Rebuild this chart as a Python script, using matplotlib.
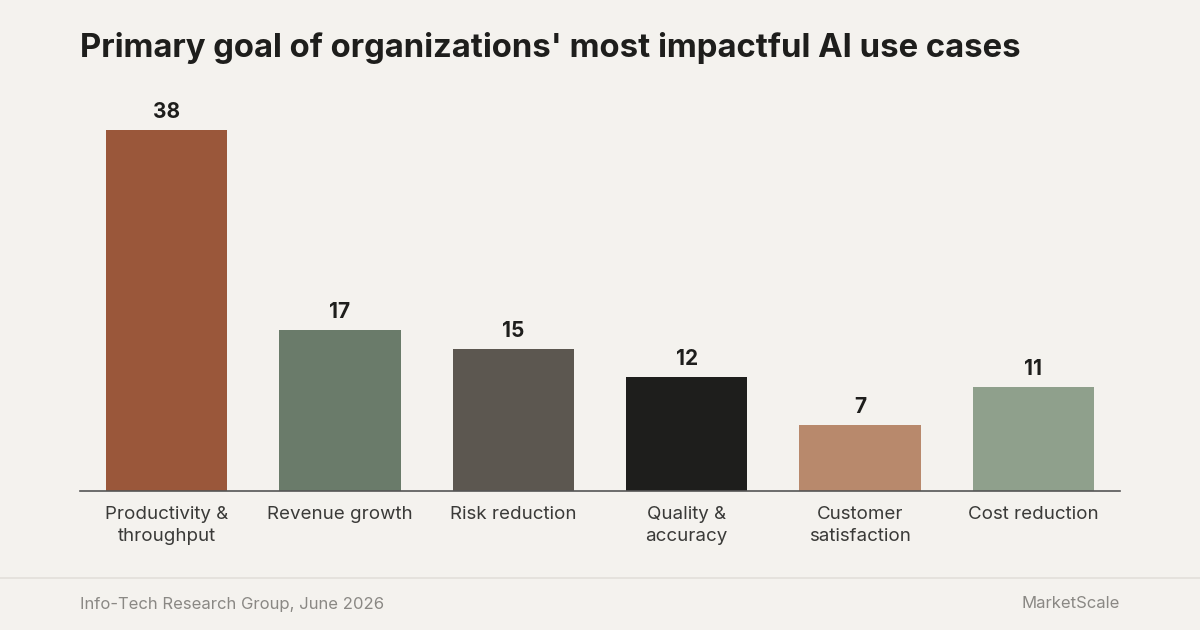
import matplotlib
matplotlib.use("Agg")
import matplotlib.pyplot as plt

categories = ["Productivity &\nthroughput", "Revenue growth", "Risk reduction",
              "Quality &\naccuracy", "Customer\nsatisfaction", "Cost reduction"]
values = [38, 17, 15, 12, 7, 11]
colors = ["#9A573A", "#6A7B6A", "#5C5750", "#1E1E1C", "#B8896C", "#8FA08C"]

bg = "#F4F2EE"
plt.rcParams['font.family'] = ['Inter', 'DejaVu Sans']
fig = plt.figure(figsize=(12, 6.3), dpi=100, facecolor=bg)
ax = fig.add_axes([80/1200, (630-491)/630, 1040/1200, 380/630], facecolor=bg)

x = range(len(values))
ax.bar(x, values, width=0.70, color=colors)
for i, v in enumerate(values):
    ax.text(i, v + 0.8, str(v), ha="center", va="bottom", fontsize=15,
            fontweight="bold", color="#1E1E1C")
ax.set_xlim(-0.5, 5.5)
ax.set_ylim(0, 40)
ax.set_yticks([])
ax.set_xticks(list(x))
ax.set_xticklabels(categories, fontsize=13.5, color="#3A3A38", linespacing=1.35)
ax.tick_params(axis="x", length=0, pad=11)
for s in ["top", "right", "left"]:
    ax.spines[s].set_visible(False)
ax.spines["bottom"].set_color("#555555")
ax.spines["bottom"].set_linewidth(1.2)

fig.text(80/1200, 1 - 48/630, "Primary goal of organizations' most impactful AI use cases",
         fontsize=23.7, fontweight="bold", color="#1E1E1C", va="center", ha="left")
fig.add_artist(plt.Line2D([0, 1], [1 - 578/630] * 2, color="#E2DFDA", lw=1.2))
fig.text(80/1200, 1 - 604/630, "Info-Tech Research Group, June 2026",
         fontsize=12, color="#8A8884", va="center", ha="left")
fig.text(1120/1200, 1 - 604/630, "MarketScale", fontsize=12, color="#8A8884",
         va="center", ha="right")

fig.savefig("out.png", dpi=100, facecolor=bg)
